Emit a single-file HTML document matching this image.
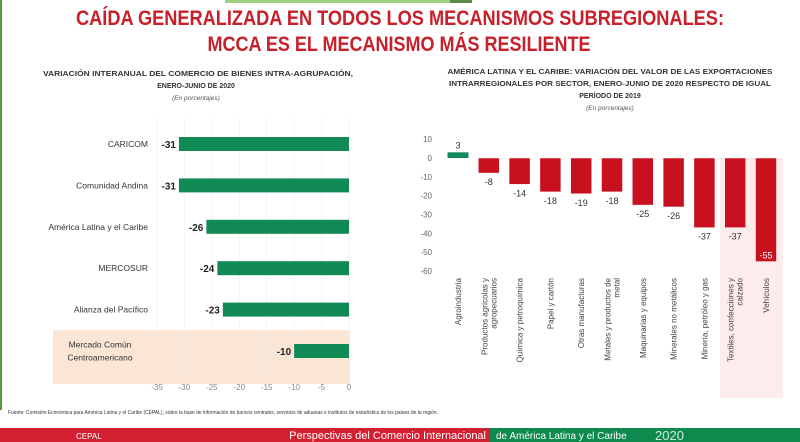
<!DOCTYPE html>
<html><head><meta charset="utf-8"><style>
html,body{margin:0;padding:0;background:#fff;}
svg{display:block;font-family:"Liberation Sans",sans-serif;}
</style></head><body>
<svg id="s" width="800" height="442" viewBox="0 0 800 442" xmlns="http://www.w3.org/2000/svg">
<rect width="800" height="442" fill="#fff"/>
<rect x="0" y="0" width="2" height="410" fill="#5a9a3a"/>
<rect x="225" y="0" width="225" height="3" fill="#9fd07f"/>
<rect x="450" y="0" width="22" height="3" fill="#5a8a4a"/>
<text x="400" y="25" text-anchor="middle" font-size="21" font-weight="bold" fill="#c8202a" textLength="648" lengthAdjust="spacingAndGlyphs">CAÍDA GENERALIZADA EN TODOS LOS MECANISMOS SUBREGIONALES:</text>
<text x="399" y="51" text-anchor="middle" font-size="21" font-weight="bold" fill="#c8202a" textLength="383" lengthAdjust="spacingAndGlyphs">MCCA ES EL MECANISMO MÁS RESILIENTE</text>

<g font-weight="bold" font-size="7" fill="#333">
<text x="198" y="76" text-anchor="middle" textLength="310" lengthAdjust="spacingAndGlyphs">VARIACIÓN INTERANUAL DEL COMERCIO DE BIENES INTRA-AGRUPACIÓN,</text>
<text x="196" y="88" text-anchor="middle">ENERO-JUNIO DE 2020</text>
<text x="610" y="74" text-anchor="middle" textLength="325" lengthAdjust="spacingAndGlyphs">AMÉRICA LATINA Y EL CARIBE: VARIACIÓN DEL VALOR DE LAS EXPORTACIONES</text>
<text x="610" y="86" text-anchor="middle" textLength="322" lengthAdjust="spacingAndGlyphs">INTRARREGIONALES POR SECTOR, ENERO-JUNIO DE 2020 RESPECTO DE IGUAL</text>
<text x="610" y="98" text-anchor="middle">PERÍODO DE 2019</text>
</g>
<text x="196" y="100" text-anchor="middle" font-size="6.5" font-style="italic" fill="#555">(En porcentajes)</text>
<text x="610" y="110" text-anchor="middle" font-size="6.5" font-style="italic" fill="#555">(En porcentajes)</text>

<rect x="53" y="330" width="297" height="54" fill="#fbe6d6"/>
<rect x="720" y="158" width="63" height="240" fill="#fdecec"/>

<g id="left"></g>
<g id="right"></g>

<text x="8" y="414" font-size="5.6" fill="#333" textLength="430" lengthAdjust="spacingAndGlyphs">Fuente: Comisión Económica para América Latina y el Caribe (CEPAL), sobre la base de información de bancos centrales, servicios de aduanas e institutos de estadística de los países de la región.</text>

<rect x="0" y="428" width="490" height="14" fill="#d32030"/>
<rect x="490" y="428" width="310" height="14" fill="#0e8a4e"/>
<text x="76" y="439" font-size="8" fill="#fff">CEPAL</text>
<text x="486" y="439" text-anchor="end" font-size="11" fill="#fff">Perspectivas del Comercio Internacional</text>
<text x="496" y="439" font-size="10" fill="#fff">de América Latina y el Caribe</text>
<text x="655" y="440" font-size="13" fill="#cfe8d8">2020</text>
</svg>
<script>
const leftCats=["CARICOM","Comunidad Andina","América Latina y el Caribe","MERCOSUR","Alianza del Pacífico","Mercado Común|Centroamericano"];
const leftVals=[-31,-31,-26,-24,-23,-10];
const leftTicks=[-35,-30,-25,-20,-15,-10,-5,0];
const rightCats=["Agroindustria","Productos agrícolas y|agropecuarios","Química y petroquímica","Papel y cartón","Otras manufacturas","Metales y productos de|metal","Maquinarias y equipos","Minerales no metálicos","Minería, petróleo y gas","Textiles, confecciones y|calzado","Vehículos"];
const rightVals=[3,-8,-14,-18,-19,-18,-25,-26,-37,-37,-55];
const rightTicks=[10,0,-10,-20,-30,-40,-50,-60];
const NS="http://www.w3.org/2000/svg";
function mk(t,a,p){const e=document.createElementNS(NS,t);for(const k in a)e.setAttribute(k,a[k]);p.appendChild(e);return e;}
const L=document.getElementById('left');
const lx=v=>349+v*(192/35);
const ly=i=>144+i*41.4;
leftTicks.forEach(t=>{
 const g=mk('line',{x1:lx(t),x2:lx(t),y1:118,y2:380,stroke:'#f0f0f0','stroke-width':0.6},L);
 
 
 const e=mk('text',{x:lx(t),y:390,'text-anchor':'middle','font-size':8,fill:'#888'},L);
 e.textContent=t;
 
 
});
leftVals.forEach((v,i)=>{
 const r=mk('rect',{x:lx(v),y:ly(i)-7,width:lx(0)-lx(v),height:14,fill:'#118a55'},L);
 
 
 const t=mk('text',{x:lx(v)-3,y:ly(i)+4,'text-anchor':'end','font-size':10,'font-weight':'bold',fill:'#222'},L);
 t.textContent=v;
 
 
 const parts=leftCats[i].split('|');
 parts.forEach((p,j)=>{
  const c=mk('text',{x:parts.length>1?100:148,y:ly(i)+3+(j-(parts.length-1)/2)*13,'text-anchor':parts.length>1?'middle':'end','font-size':8.5,fill:'#333'},L);
  c.textContent=p;
  
  
 });
});
const R=document.getElementById('right');
const ry=v=>158-v*(113/60);
const rx=i=>458+i*30.8;
rightTicks.forEach(t=>{
 const e=mk('text',{x:432,y:ry(t)+3,'text-anchor':'end','font-size':8,fill:'#666'},R);
 e.textContent=t;
 
 
});
rightVals.forEach((v,i)=>{
 const y0=Math.min(ry(v),ry(0)),h=Math.abs(ry(v)-ry(0));
 const r=mk('rect',{x:rx(i)-10.5,y:y0,width:21,height:Math.max(h,1),fill:v>=0?'#138a5a':'#c8101e',stroke:v>=0?'none':'#fff','stroke-width':0.5},R);
 
 
 const last=i===rightVals.length-1;
 const t=mk('text',{x:rx(i),y:v>=0?ry(v)-4:(last?ry(v)-3:ry(v)+12),'text-anchor':'middle','font-size':9,fill:last?'#fff':'#333'},R);
 t.textContent=v;
 
 
 const parts=rightCats[i].split('|');
 parts.forEach((p,j)=>{
  const xx=rx(i)+(j-(parts.length-1)/2)*9+3;
  const c=mk('text',{x:xx,y:278,'text-anchor':'end','font-size':8,fill:'#444',transform:`rotate(-90 ${xx} 278)`},R);
  c.textContent=p;
  
  
 });
});
</script>
</body></html>
